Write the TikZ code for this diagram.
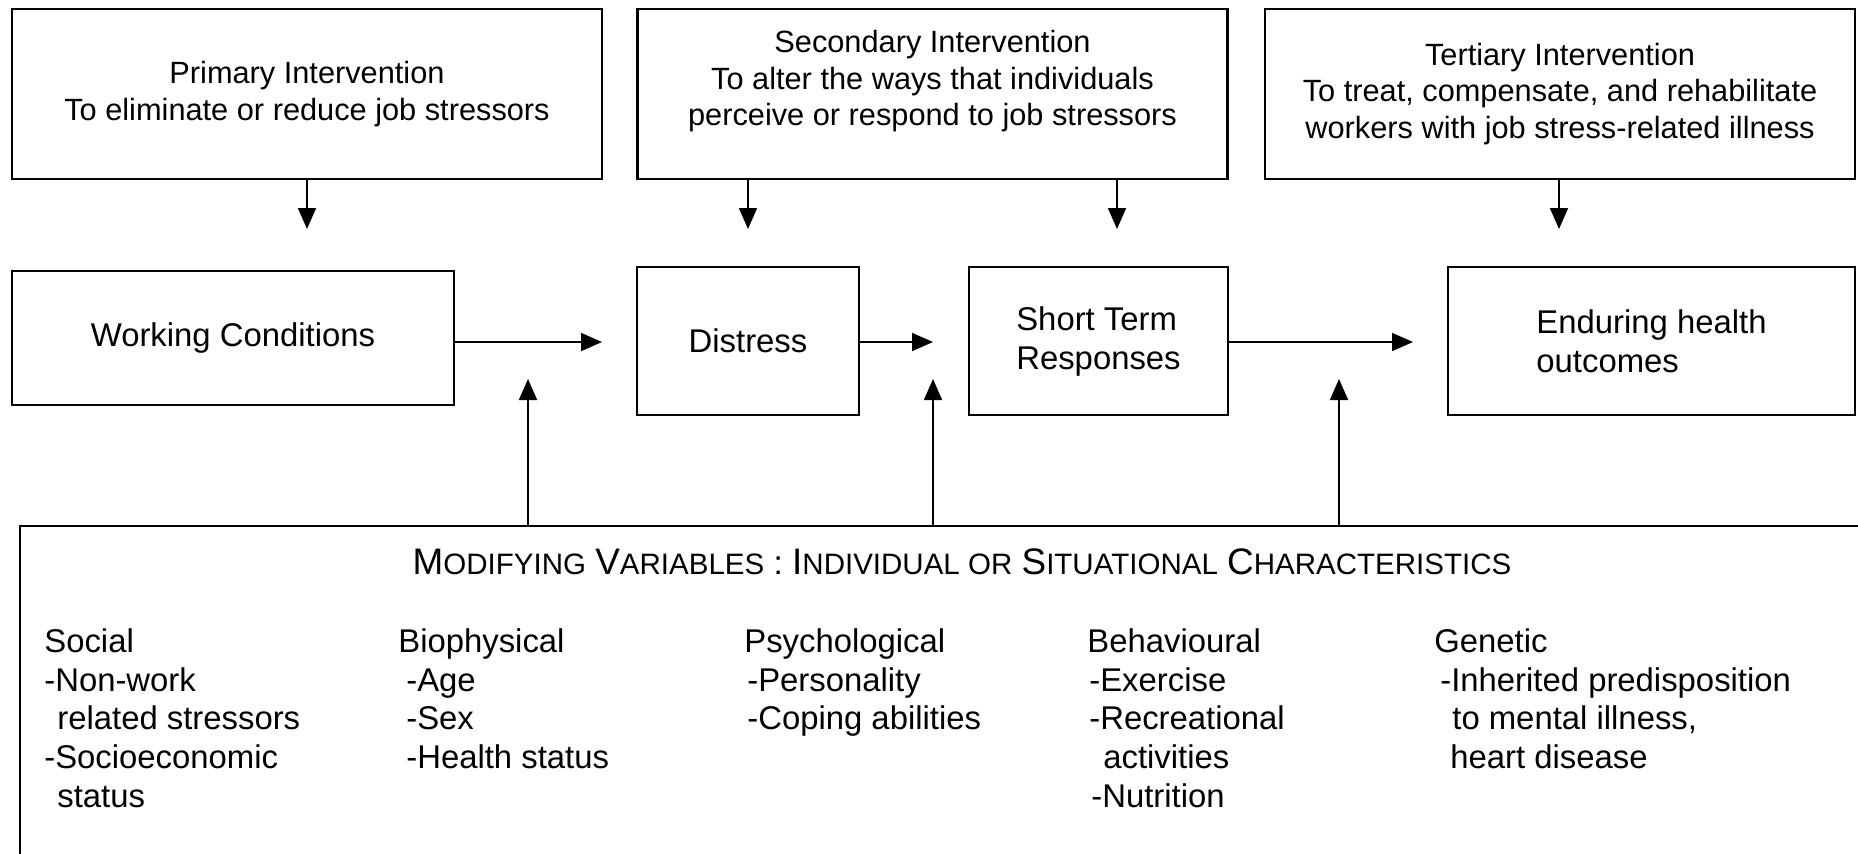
\documentclass[tikz,border=0pt]{standalone}
\usepackage{fontspec}
\setmainfont{Liberation Sans}
\usetikzlibrary{arrows.meta, positioning}

\newcommand{\bigsc}[1]{{\fontsize{21}{24}\selectfont #1}}
\newcommand{\smsc}[1]{{\fontsize{16.8}{24}\selectfont #1}}

\begin{document}
\begin{tikzpicture}[x=0.02cm, y=-0.02cm,
    box/.style={draw, line width=1.3pt, inner sep=0pt},
    ivbox/.style={box, minimum width=11.8cm, minimum height=3.4cm,
      align=center, font=\fontsize{17.5}{20.8}\selectfont},
    stage/.style={box, minimum height=2.96cm, align=left,
      font=\fontsize{18.7}{22.2}\selectfont},
    col/.style={anchor=north west, align=left, inner sep=0pt,
      font=\fontsize{18.7}{22.1}\selectfont},
    >={Triangle[length=0.42cm, width=0.36cm]},
    arr/.style={->, line width=1pt}]

    \useasboundingbox (0,0) rectangle (1858,853);
    \clip (0,0) rectangle (1858,853);

    \node[ivbox] (prim) at (307,94) {Primary Intervention\\To eliminate or reduce job stressors};
    \node[ivbox] (sec) at (932.5,94) {Secondary Intervention\\To alter the ways that individuals\\perceive or respond to job stressors\\[-0.1cm]\mbox{}};
    \node[ivbox] (ter) at (1560,94) {Tertiary Intervention\\To treat, compensate, and rehabilitate\\workers with job stress-related illness};

    \node[stage, minimum width=8.84cm, minimum height=2.68cm] (wc) at (233,338) {Working Conditions};
    \node[stage, minimum width=4.44cm] (dis) at (748,341) {Distress};
    \node[stage, minimum width=5.18cm] (str) at (1098.5,341) {Short Term\\Responses};
    \node[stage, minimum width=8.14cm] (end) at (1651.5,341) {Enduring health\\outcomes};

    \node[box, anchor=north west, minimum width=37.6cm, minimum height=8cm] (mod) at (19,525) {};
    \node[anchor=base, font=\fontsize{19}{24}\selectfont] (title) at (962,574) {\bigsc{M}\smsc{ODIFYING} \bigsc{V}\smsc{ARIABLES} : \bigsc{I}\smsc{NDIVIDUAL OR} \bigsc{S}\smsc{ITUATIONAL} \bigsc{C}\smsc{HARACTERISTICS}};

    \node[col] (soc) at (44,628) {Social\\-Non-work\\\hspace*{0.26cm}related stressors\\-Socioeconomic\\\hspace*{0.26cm}status};
    \node[col] (bio) at (398,628) {Biophysical\\\hspace*{0.16cm}-Age\\\hspace*{0.16cm}-Sex\\\hspace*{0.16cm}-Health status};
    \node[col] (psy) at (744,628) {Psychological\\\hspace*{0.06cm}-Personality\\\hspace*{0.06cm}-Coping abilities};
    \node[col] (beh) at (1087,628) {Behavioural\\\hspace*{0.04cm}-Exercise\\\hspace*{0.04cm}-Recreational\\\hspace*{0.32cm}activities\\\hspace*{0.08cm}-Nutrition};
    \node[col] (gen) at (1434,628) {Genetic\\\hspace*{0.12cm}-Inherited predisposition\\\hspace*{0.36cm}to mental illness,\\\hspace*{0.32cm}heart disease};

    \coordinate (d1) at (307,229);
    \coordinate (d2) at (748,229);
    \coordinate (d3) at (1117,229);
    \coordinate (d4) at (1559,229);
    \draw[arr] (prim.south -| d1) -- (d1);
    \draw[arr] (sec.south -| d2) -- (d2);
    \draw[arr] (sec.south -| d3) -- (d3);
    \draw[arr] (ter.south -| d4) -- (d4);

    \coordinate (t1) at (602,342);
    \coordinate (t2) at (933,342);
    \coordinate (t3) at (1413,342);
    \draw[arr] (wc.east |- t1) -- (t1);
    \draw[arr] (dis.east |- t2) -- (t2);
    \draw[arr] (str.east |- t3) -- (t3);

    \coordinate (u1) at (528,379);
    \coordinate (u2) at (933,379);
    \coordinate (u3) at (1339,379);
    \draw[arr] (mod.north -| u1) -- (u1);
    \draw[arr] (mod.north -| u2) -- (u2);
    \draw[arr] (mod.north -| u3) -- (u3);
\end{tikzpicture}
\end{document}
